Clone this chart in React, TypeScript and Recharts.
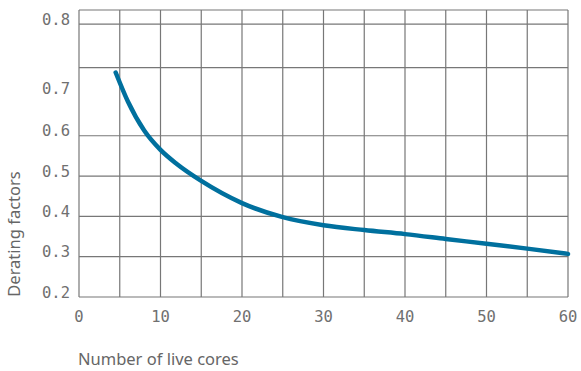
import React from 'react'
import { LineChart, Line, XAxis, YAxis, CartesianGrid, Label } from 'recharts';

// cores vs derating factor
const cores = [4.5, 6, 8, 10, 12, 15, 20, 25, 30, 35, 40, 45, 50, 55, 60];
const factors = [0.757, 0.685, 0.613, 0.565, 0.53, 0.488, 0.433, 0.398, 0.378, 0.366, 0.356, 0.344, 0.332, 0.32, 0.307];

const xTicks = [0, 10, 20, 30, 40, 50, 60];
const xGrid = [0, 5, 10, 15, 20, 25, 30, 35, 40, 45, 50, 55, 60];
const yTickValues = [0.2, 0.3, 0.4, 0.5, 0.6, 0.706, 0.877];
const yTickLabels = ['0.2', '0.3', '0.4', '0.5', '0.6', '0.7', '0.8'];
const yGrid = [0.2, 0.3, 0.4, 0.5, 0.6, 0.769, 0.877, 0.912];

const data = cores.map((c, i) => ({ cores: c, factor: factors[i] }));

const tickStyle = { fill: '#707070', fontSize: 15.5, fontFamily: 'DejaVu Sans Mono' };
const titleStyle = { fill: '#666', fontSize: 16.5, fontFamily: 'Noto Sans' };

const App = () => {
  return (
    <div style={{ position: 'absolute', left: 0, top: 0 }}>
      <LineChart width={581} height={371} data={data} margin={{ top: 10, right: 13, left: 0, bottom: 0 }}>
        <CartesianGrid stroke="#777" strokeWidth={1.2} horizontalValues={yGrid} verticalValues={xGrid} />
        <XAxis
          dataKey="cores"
          type="number"
          domain={[0, 60]}
          ticks={xTicks}
          axisLine={false}
          tickLine={false}
          tickSize={0}
          tickMargin={14}
          height={74}
          tick={tickStyle}
        >
          <Label
            content={({ viewBox }: any) => (
              <text x={viewBox.x - 1} y={viewBox.y + 68} style={titleStyle} fill="#666">
                Number of live cores
              </text>
            )}
          />
        </XAxis>
        <YAxis
          type="number"
          domain={[0.2, 0.912]}
          ticks={yTickValues}
          tickFormatter={(v: number) => yTickLabels[yTickValues.indexOf(v)]}
          axisLine={false}
          tickLine={false}
          tickSize={0}
          tickMargin={9}
          width={79}
          tick={{ ...tickStyle, dy: -5 }}
        >
          <Label
            content={() => (
              <text x={20} y={234} transform="rotate(-90 20 234)" textAnchor="middle" style={titleStyle} fill="#666">
                Derating factors
              </text>
            )}
          />
        </YAxis>
        <Line
          dataKey="factor"
          type="monotone"
          stroke="#00709e"
          strokeWidth={4.5}
          strokeLinecap="round"
          dot={false}
          isAnimationActive={false}
        />
      </LineChart>
    </div>
  )
}

export default App
